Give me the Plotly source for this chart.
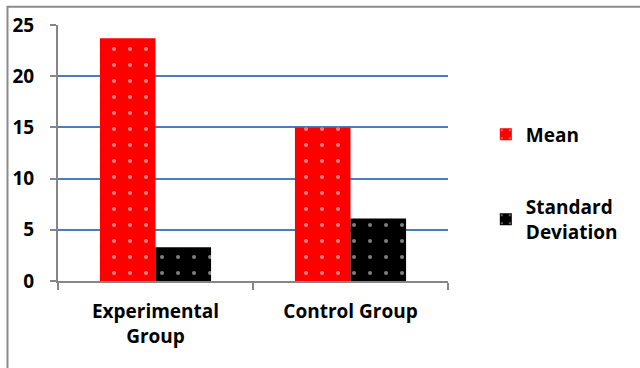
import plotly.graph_objects as go

categories = ["Experimental<br>Group", "Control Group"]
mean_values = [23.7, 15.0]
sd_values = [3.3, 6.1]
series_names = ["Mean", "Standard<br>Deviation"]
y_ticks = [0, 5, 10, 15, 20, 25]

FONT = "Open Sans"
FS = 19
AXIS_GRAY = "#868686"
GRID_BLUE = "#4A7EBB"

fig = go.Figure()
fig.add_trace(go.Bar(
    x=categories, y=mean_values, name=series_names[0],
    marker=dict(color="#FF0000", line=dict(width=0),
                pattern=dict(shape=".", fgcolor="white", size=16, solidity=0.05)),
    legendgroup="a",
))
fig.add_trace(go.Bar(
    x=categories, y=sd_values, name=series_names[1],
    marker=dict(color="#000000", line=dict(width=0),
                pattern=dict(shape=".", fgcolor="white", size=16, solidity=0.05)),
    legendgroup="b",
))

fig.update_layout(
    width=640, height=368,
    margin=dict(l=58, r=192, t=22, b=87),
    paper_bgcolor="white", plot_bgcolor="white",
    barmode="group", bargap=0.43, bargroupgap=0,
    font=dict(family=FONT, size=FS, color="black", weight="bold"),
    legend=dict(x=1.097, y=0.647, xanchor="left", yanchor="top",
                traceorder="grouped", tracegroupgap=45,
                font=dict(family=FONT, size=FS, color="black", weight="bold"),
                itemwidth=30, bgcolor="rgba(0,0,0,0)"),
    showlegend=True,
)
fig.update_xaxes(
    showline=True, linecolor=AXIS_GRAY, linewidth=2,
    ticks="outside", tickson="boundaries", ticklen=7, tickcolor=AXIS_GRAY, tickwidth=2,
    showgrid=False, ticklabelstandoff=12,
    tickfont=dict(family=FONT, size=FS, color="black", weight="bold"),
)
fig.update_yaxes(
    range=[0, 25], tickvals=y_ticks,
    showline=True, linecolor=AXIS_GRAY, linewidth=2,
    ticks="outside", ticklen=6, tickcolor=AXIS_GRAY, tickwidth=2,
    showgrid=True, gridcolor=GRID_BLUE, gridwidth=1.5,
    zeroline=False, ticklabelstandoff=12,
    tickfont=dict(family=FONT, size=FS, color="black", weight="bold"),
)
# outer chart frame
fig.add_shape(type="rect", xref="paper", yref="paper",
              x0=-0.1295, y0=-0.37, x1=1.52, y1=1.0714,
              line=dict(color="#8C8C8C", width=2), fillcolor="rgba(0,0,0,0)", layer="below")

fig.write_html("out.html")
